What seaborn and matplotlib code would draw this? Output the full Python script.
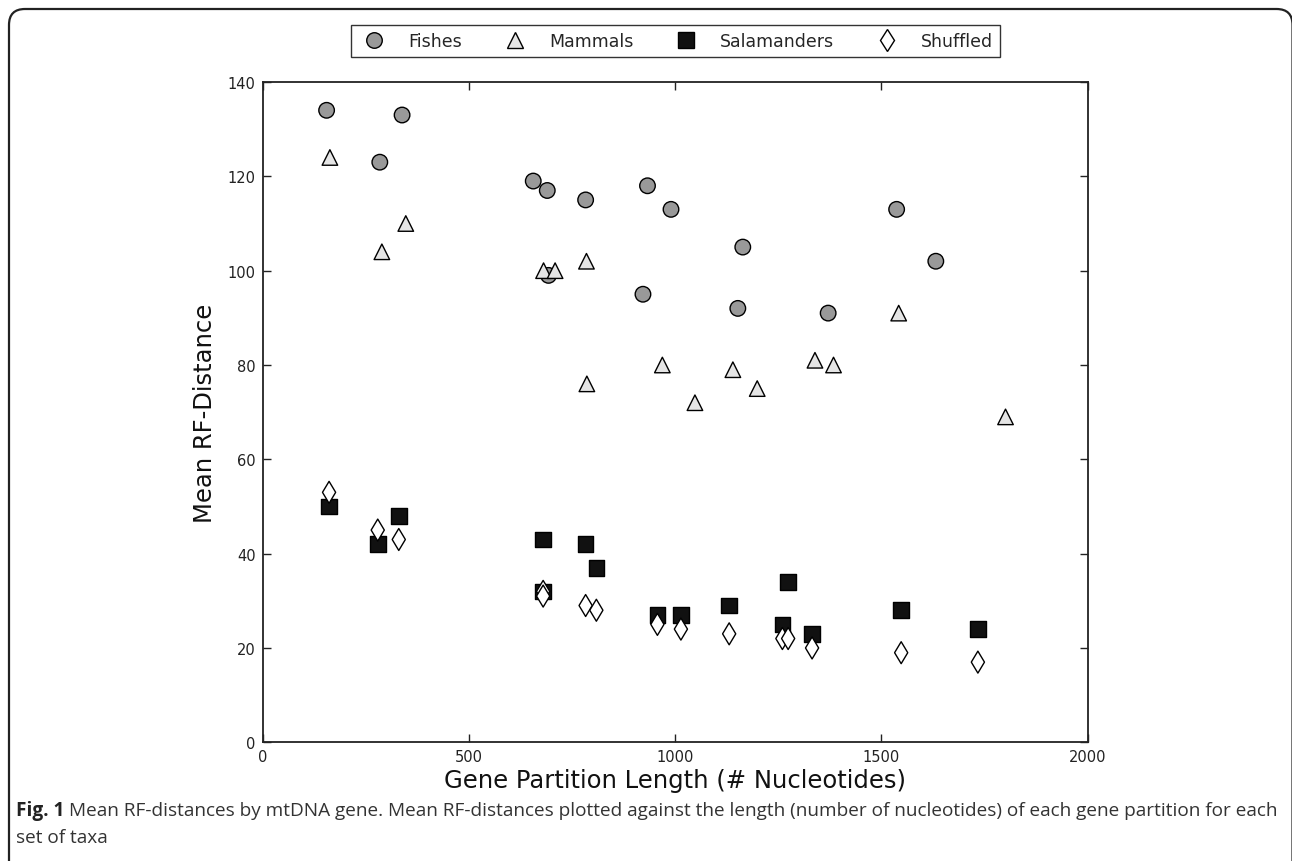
import matplotlib
matplotlib.use('Agg')
import matplotlib.pyplot as plt
from matplotlib.patches import FancyBboxPatch
from matplotlib.transforms import IdentityTransform
import pandas as pd
import seaborn as sns

# Values
fish_len = [155, 284, 338, 656, 690, 693, 783, 922, 933, 990, 1152, 1164, 1371, 1537, 1632]
fish_rf = [134, 123, 133, 119, 117, 99, 115, 95, 118, 113, 92, 105, 91, 113, 102]

mammal_len = [163, 289, 347, 681, 709, 785, 786, 969, 1048, 1140, 1199, 1339, 1384, 1542, 1801]
mammal_rf = [124, 104, 110, 100, 100, 102, 76, 80, 72, 79, 75, 81, 80, 91, 69]

sal_len = [161, 279, 330, 680, 680, 783, 809, 957, 1014, 1131, 1260, 1274, 1332, 1548, 1734]
sal_rf = [50, 42, 48, 43, 32, 42, 37, 27, 27, 29, 25, 34, 23, 28, 24]

shuf_len = [161, 279, 330, 680, 680, 783, 809, 957, 1014, 1131, 1260, 1274, 1332, 1548, 1734]
shuf_rf = [53, 45, 43, 32, 31, 29, 28, 25, 24, 23, 22, 22, 20, 19, 17]

groups = ['Fishes', 'Mammals', 'Salamanders', 'Shuffled']
x_ticks = [0, 500, 1000, 1500, 2000]
y_ticks = [0, 20, 40, 60, 80, 100, 120, 140]

df = pd.concat([
    pd.DataFrame({'length': fish_len, 'rf': fish_rf, 'taxa': 'Fishes'}),
    pd.DataFrame({'length': mammal_len, 'rf': mammal_rf, 'taxa': 'Mammals'}),
    pd.DataFrame({'length': sal_len, 'rf': sal_rf, 'taxa': 'Salamanders'}),
    pd.DataFrame({'length': shuf_len, 'rf': shuf_rf, 'taxa': 'Shuffled'}),
])

sns.set_style('ticks')
plt.rcParams['font.family'] = 'DejaVu Sans'

palette = {'Fishes': '#999999', 'Mammals': '#e5e5e5', 'Salamanders': '#111111', 'Shuffled': '#ffffff'}
markers = {'Fishes': 'o', 'Mammals': '^', 'Salamanders': 's', 'Shuffled': 'd'}

fig = plt.figure(figsize=(12.92, 8.62), dpi=100)
ax = fig.add_axes([0.2033, 0.1377, 0.6385, 0.766])

sns.scatterplot(data=df, x='length', y='rf', hue='taxa', style='taxa', hue_order=groups,
                style_order=groups, palette=palette, markers=markers, s=125,
                edgecolor='black', linewidth=1, ax=ax, zorder=3)

ax.set_xlim(0, 2000)
ax.set_ylim(0, 140)
ax.set_xticks(x_ticks)
ax.set_yticks(y_ticks)
ax.tick_params(direction='in', length=5.5, width=1, top=True, right=True,
               labelsize=10.5, colors='#222222', pad=5)
for sp in ax.spines.values():
    sp.set_visible(True)
    sp.set_linewidth(1.3)
    sp.set_color('#222222')

ax.set_xlabel('Gene Partition Length (# Nucleotides)', fontsize=17.5, color='#111111', labelpad=3)
ax.set_ylabel('Mean RF-Distance', fontsize=17.5, color='#111111', labelpad=8)

handles, labels = ax.get_legend_handles_labels()
leg = ax.legend(handles, labels, loc='center', bbox_to_anchor=(0.5, 1.062), ncol=4,
                frameon=True, fancybox=False, edgecolor='black', fontsize=12.5,
                handletextpad=0.95, columnspacing=2.05, borderpad=0.38,
                handlelength=2.0, markerscale=1.0)
leg.get_frame().set_linewidth(1.0)

# outer figure frame with rounded corners
box = FancyBboxPatch((9, -40), 1283.5, 892, boxstyle='round,pad=0,rounding_size=16',
                     transform=IdentityTransform(), fill=False, edgecolor='#222222',
                     linewidth=1.6, clip_on=False)
fig.add_artist(box)

# caption
cap_font = 'Open Sans'
t1 = fig.text(16 / 1292, 1 - 811 / 862, 'Fig. 1', fontsize=13.7, fontweight='bold',
              family=cap_font, va='center', ha='left', color='#222222')
fig.canvas.draw()
r = fig.canvas.get_renderer()
bb = t1.get_window_extent(r)
fig.text((bb.x1 + 5) / 1292, 1 - 811 / 862,
         'Mean RF-distances by mtDNA gene. Mean RF-distances plotted against the length '
         '(number of nucleotides) of each gene partition for each',
         fontsize=13.7, family=cap_font, va='center', ha='left', color='#333333')
fig.text(16 / 1292, 1 - 838 / 862, 'set of taxa', fontsize=13.7, family=cap_font,
         va='center', ha='left', color='#333333')

fig.savefig('out.png', dpi=100)
